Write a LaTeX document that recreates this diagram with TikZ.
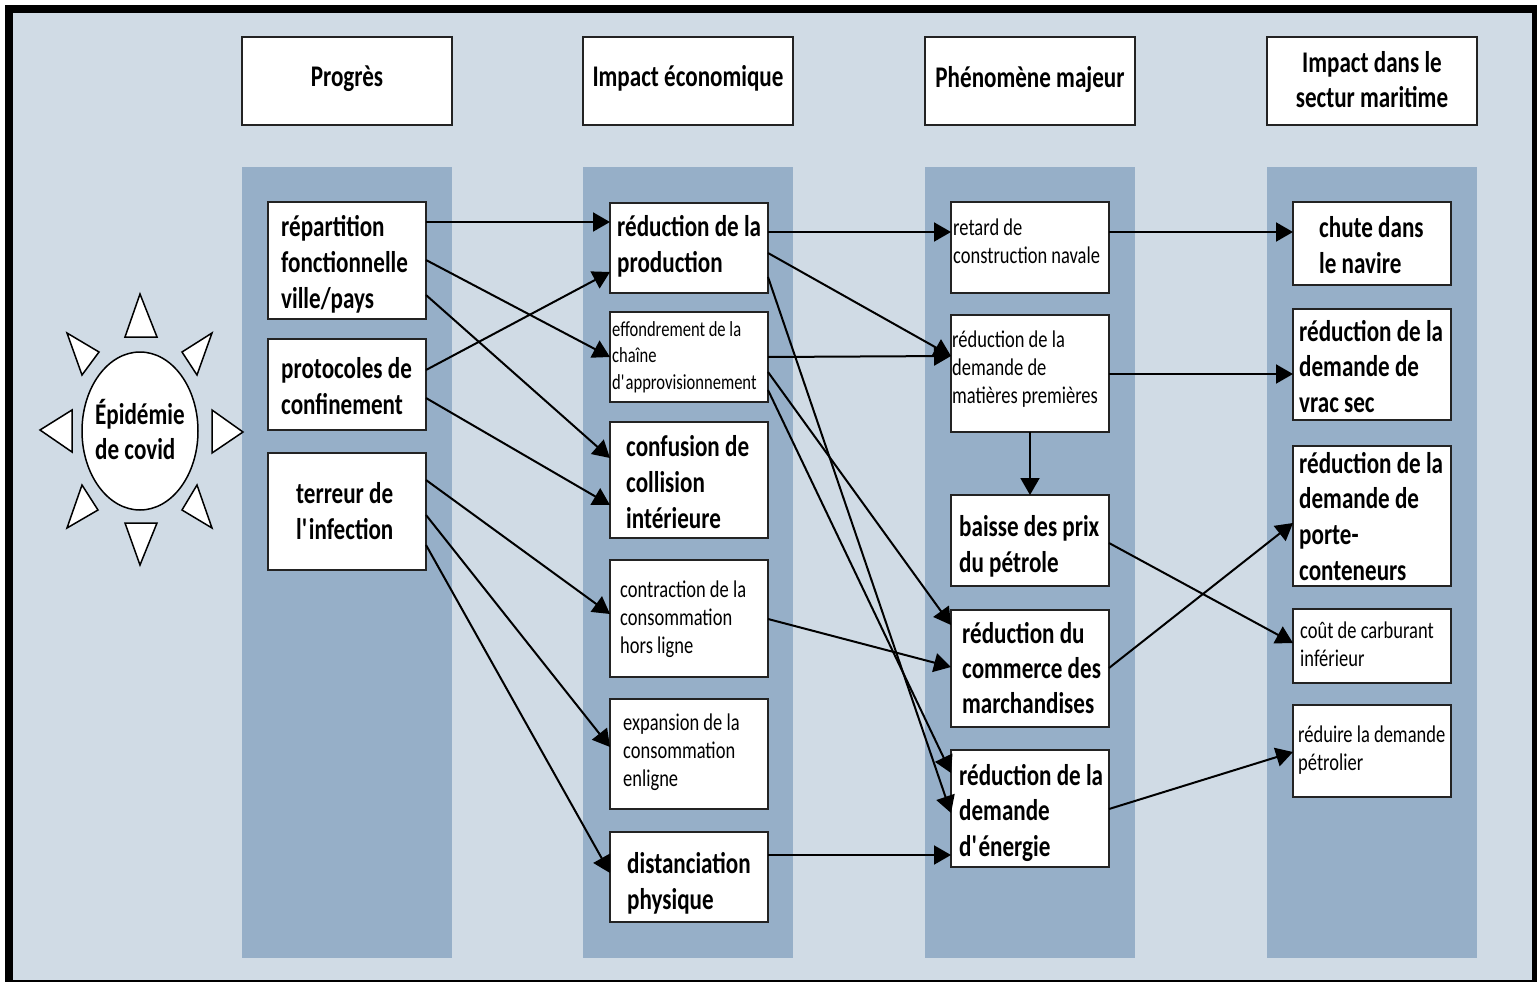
\documentclass[tikz,border=0pt]{standalone}
\usepackage{fontspec}
\setmainfont{Carlito}[FakeStretch=0.77]
\usetikzlibrary{arrows.meta,calc}
\definecolor{bglight}{RGB}{208,219,229}
\definecolor{colblue}{RGB}{150,175,200}
\definecolor{edgegray}{RGB}{35,35,35}
\newcommand\ml[1]{\vtop{\halign{##\hfil\cr#1\crcr}}}
\newcommand\mlc[1]{\vtop{\halign{\hfil##\hfil\cr#1\crcr}}}
\newcommand\aps{\textquotesingle}
\begin{document}
\begin{tikzpicture}[x=1pt,y=-1pt,
  box/.style={draw=edgegray,line width=2pt,fill=white,rectangle,inner sep=0pt,outer sep=0pt,minimum width=158pt},
  hdr/.style={draw=edgegray,line width=2pt,fill=white,rectangle,inner sep=0pt,outer sep=0pt,minimum width=210pt,minimum height=88pt},
  txtb/.style={inner sep=0pt,anchor=base west,font=\fontsize{30}{36}\selectfont\bfseries},
  txts/.style={inner sep=0pt,anchor=base west,font=\fontsize{24}{28}\selectfont},
  txtxs/.style={inner sep=0pt,anchor=base west,font=\fontsize{21.5}{26.5}\selectfont},
  arr/.style={line width=2pt,draw=black,-{Triangle[length=17pt,width=19pt]}},
  ray/.style={draw=black,fill=white,line width=1.5pt,line join=miter}
]
\useasboundingbox (0,0) rectangle (1537,982);
\fill[white] (0,0) rectangle (1537,982);
\fill[black] (5,5) rectangle (1537,982);
\fill[bglight] (13,13) rectangle (1532,980);
% columns
\fill[colblue] (242,167) rectangle (452,958);
\fill[colblue] (583,167) rectangle (793,958);
\fill[colblue] (925,167) rectangle (1135,958);
\fill[colblue] (1267,167) rectangle (1477,958);
% headers
\node[hdr] (h1) at (347,81) {};
\node[hdr] (h2) at (688,81) {};
\node[hdr] (h3) at (1030,81) {};
\node[hdr] (h4) at (1372,81) {};
\node[txtb,anchor=base] (th1) at (347,86) {Progrès};
\node[txtb,anchor=base] (th2) at (688,86) {Impact économique};
\node[txtb,anchor=base] (th3) at (1030,88) {Phénomène majeur};
\node[txtb,anchor=base,font=\fontsize{30}{35}\selectfont\bfseries] (th4) at (1372,73) {\mlc{Impact dans le\cr sectur maritime}};
% sun
\draw[ray] (140,431) ellipse [x radius=58pt, y radius=79pt];
\draw[ray] (140,294) -- (157,337) -- (125,337) -- cycle;
\draw[ray] (125,523) -- (157,523) -- (140,565) -- cycle;
\draw[ray] (40,430) -- (72,410) -- (72,452) -- cycle;
\draw[ray] (243,432) -- (212,410) -- (212,453) -- cycle;
\draw[ray] (67,333) -- (99,352) -- (82,375) -- cycle;
\draw[ray] (212,333) -- (182,352) -- (197,375) -- cycle;
\draw[ray] (82,485) -- (98,510) -- (67,528) -- cycle;
\draw[ray] (197,485) -- (182,510) -- (212,528) -- cycle;
\node[txtb,font=\fontsize{30}{35}\selectfont\bfseries] (tsun) at (95,424) {\ml{Épidémie\cr de covid}};
% column 1
\node[box,minimum height=117pt] (rep) at (347,260.5) {};
\node[box,minimum height=91pt] (pro) at (347,384.5) {};
\node[box,minimum height=117pt] (ter) at (347,511.5) {};
% column 2
\node[box,minimum height=90pt] (prod) at (689,248) {};
\node[box,minimum height=90pt] (eff) at (689,357) {};
\node[box,minimum height=116pt] (conf) at (689,480) {};
\node[box,minimum height=117pt] (contr) at (689,618.5) {};
\node[box,minimum height=110pt] (expa) at (689,754) {};
\node[box,minimum height=90pt] (dist) at (689,877) {};
% column 3
\node[box,minimum height=91pt] (ret) at (1030,247.5) {};
\node[box,minimum height=117pt] (mat) at (1030,373.5) {};
\node[box,minimum height=91pt] (bai) at (1030,540.5) {};
\node[box,minimum height=117pt] (com) at (1030,668.5) {};
\node[box,minimum height=117pt] (ene) at (1030,808.5) {};
% column 4
\node[box,minimum height=83pt] (chu) at (1372,243.5) {};
\node[box,minimum height=111pt] (vra) at (1372,364.5) {};
\node[box,minimum height=140pt] (por) at (1372,516) {};
\node[box,minimum height=74pt] (cou) at (1372,646) {};
\node[box,minimum height=92pt] (red) at (1372,751) {};
% texts
\node[txtb] (trep) at (281,236) {\ml{répartition\cr fonctionnelle\cr ville/pays}};
\node[txtb] (tpro) at (281,378) {\ml{protocoles de\cr confinement}};
\node[txtb] (tter) at (296,503) {\ml{terreur de\cr l\aps infection}};
\node[txtb] (tprod) at (617,236) {\ml{réduction de la\cr production}};
\node[txtxs] (teff) at (612,336) {\ml{effondrement de la\cr chaîne\cr d\aps approvisionnement}};
\node[txtb] (tconf) at (626,456) {\ml{confusion de\cr collision\cr intérieure}};
\node[txts] (tcontr) at (620,597) {\ml{contraction de la\cr consommation\cr hors ligne}};
\node[txts] (texpa) at (623,730) {\ml{expansion de la\cr consommation\cr enligne}};
\node[txtb] (tdist) at (627,873) {\ml{distanciation\cr physique}};
\node[txts] (tret) at (953,235) {\ml{retard de\cr construction navale}};
\node[txts] (tmat) at (952,347) {\ml{réduction de la\cr demande de\cr matières premières}};
\node[txtb] (tbai) at (959,536) {\ml{baisse des prix\cr du pétrole}};
\node[txtb,font=\fontsize{30}{35}\selectfont\bfseries] (tcom) at (962,643) {\ml{réduction du\cr commerce des\cr marchandises}};
\node[txtb,font=\fontsize{30}{35.5}\selectfont\bfseries] (tene) at (959,785) {\ml{réduction de la\cr demande\cr d\aps énergie}};
\node[txtb] (tchu) at (1319,237) {\ml{chute dans\cr le navire}};
\node[txtb,font=\fontsize{30}{35.5}\selectfont\bfseries] (tvra) at (1299,341) {\ml{réduction de la\cr demande de\cr vrac sec}};
\node[txtb,font=\fontsize{30}{35.7}\selectfont\bfseries] (tpor) at (1299,473) {\ml{réduction de la\cr demande de\cr porte-\cr conteneurs}};
\node[txts] (tcou) at (1300,638) {\ml{coût de carburant\cr inférieur}};
\node[txts] (tred) at (1298,742) {\ml{réduire la demande\cr pétrolier}};
% connectors
\draw[arr] ($(rep.north east)+(0,20)$) -- ($(prod.north west)+(0,19)$);
\draw[arr] ($(rep.north east)+(0,58)$) -- ($(eff.north west)+(0,45)$);
\draw[arr] ($(rep.north east)+(0,93)$) -- ($(conf.north west)+(0,36)$);
\draw[arr] ($(pro.north east)+(0,31)$) -- ($(prod.north west)+(0,69)$);
\draw[arr] ($(pro.north east)+(0,59)$) -- ($(conf.north west)+(0,83)$);
\draw[arr] ($(ter.north east)+(0,27)$) -- ($(contr.north west)+(0,54)$);
\draw[arr] ($(ter.north east)+(0,62)$) -- ($(expa.north west)+(0,48)$);
\draw[arr] ($(ter.north east)+(0,92)$) -- ($(dist.north west)+(0,41)$);
\draw[arr] ($(prod.north east)+(0,29)$) -- ($(ret.north west)+(0,30)$);
\draw[arr] ($(prod.north east)+(0,50)$) -- ($(mat.north west)+(0,41)$);
\draw[arr] ($(prod.north east)+(0,74)$) -- ($(ene.north west)+(0,63)$);
\draw[arr] ($(eff.north east)+(0,45)$) -- ($(mat.north west)+(0,41)$);
\draw[arr] ($(eff.north east)+(0,60)$) -- ($(com.north west)+(0,15)$);
\draw[arr] ($(eff.north east)+(0,78)$) -- ($(ene.north west)+(0,23)$);
\draw[arr] ($(contr.north east)+(0,59)$) -- ($(com.north west)+(0,57)$);
\draw[arr] ($(dist.north east)+(0,23)$) -- ($(ene.north west)+(0,105)$);
\draw[arr] (mat.south) -- (bai.north);
\draw[arr] ($(ret.north east)+(0,30)$) -- ($(chu.north west)+(0,30)$);
\draw[arr] ($(mat.north east)+(0,59)$) -- ($(vra.north west)+(0,65)$);
\draw[arr] ($(bai.north east)+(0,48)$) -- ($(cou.north west)+(0,34)$);
\draw[arr] ($(com.north east)+(0,58)$) -- ($(por.north west)+(0,77)$);
\draw[arr] ($(ene.north east)+(0,59)$) -- ($(red.north west)+(0,47)$);
\end{tikzpicture}
\end{document}
